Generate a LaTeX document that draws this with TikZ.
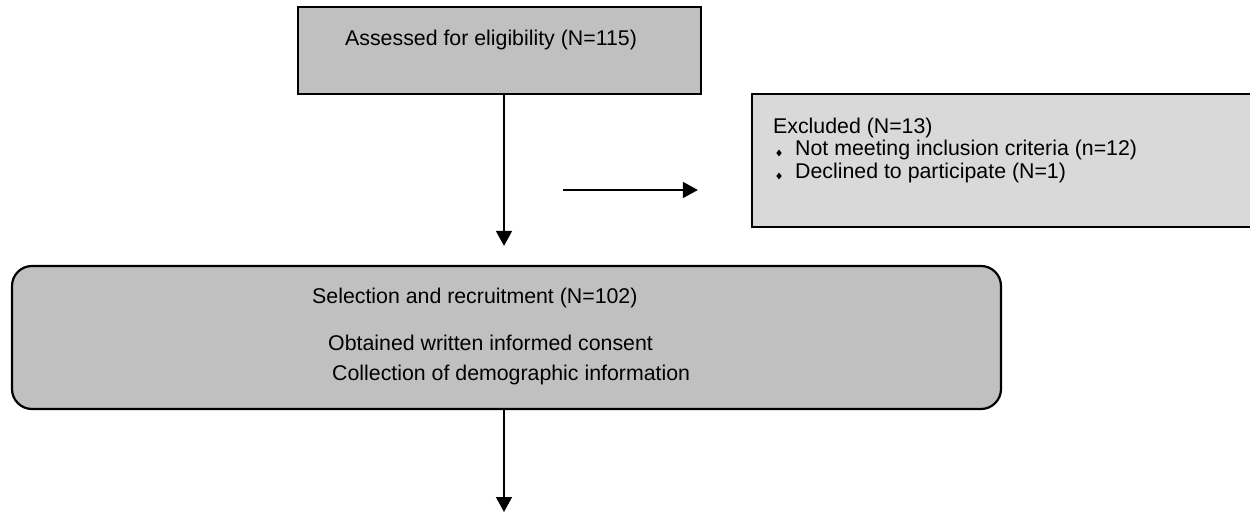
\documentclass[tikz,border=0pt]{standalone}
\usepackage{fontspec}
\setmainfont{Liberation Sans}
\usetikzlibrary{arrows.meta,shapes.geometric}
\definecolor{boxgray}{HTML}{C0C0C0}
\definecolor{palegray}{HTML}{D9D9D9}
\begin{document}
\begin{tikzpicture}[x=1bp,y=-1bp,
  lbl/.style={inner sep=0pt, anchor=west, font=\fontsize{21.4}{25}\selectfont},
  stagebox/.style={draw=black, line width=2.2bp, inner sep=0pt},
  flow/.style={line width=1.5bp, -{Triangle[length=15bp,width=16bp]}},
  bulletmark/.style={diamond, fill=black, inner sep=0pt, minimum width=5.5bp, minimum height=7bp}]
\useasboundingbox (0,0) rectangle (1250,513);

% boxes
\node[stagebox, fill=boxgray, minimum width=403bp, minimum height=87bp] (assess) at (499.5,50.5) {};
\node[stagebox, fill=palegray, minimum width=508bp, minimum height=133bp] (excl) at (1006,160.5) {};
\node[stagebox, fill=boxgray, rounded corners=20bp, minimum width=989bp, minimum height=143bp] (sel) at (506.5,337.5) {};

% texts
\node[lbl] (t1) at (345,40) {Assessed for eligibility (N=115)};
\node[lbl] (t2) at (773,128) {Excluded (N=13)};
\node[bulletmark] (b1) at (779,153) {};
\node[lbl] (t3) at (795,150) {Not meeting inclusion criteria (n=12)};
\node[bulletmark] (b2) at (779,176) {};
\node[lbl] (t4) at (795,173) {Declined to participate (N=1)};
\node[lbl] (t5) at (312,298) {Selection and recruitment (N=102)};
\node[lbl] (t6) at (328,343) {Obtained written informed consent};
\node[lbl] (t7) at (332,375) {Collection of demographic information};

% connectors
\coordinate (trunk) at (504,0);
\coordinate (hstart) at (563,190);
\coordinate (tail) at (504,512);
\draw[flow, shorten >=19bp] (assess.south -| trunk) -- (sel.north -| trunk);
\draw[flow, shorten >=53bp] (hstart) -- (hstart -| excl.west);
\draw[flow] (sel.south -| trunk) -- (tail);
\end{tikzpicture}
\end{document}
